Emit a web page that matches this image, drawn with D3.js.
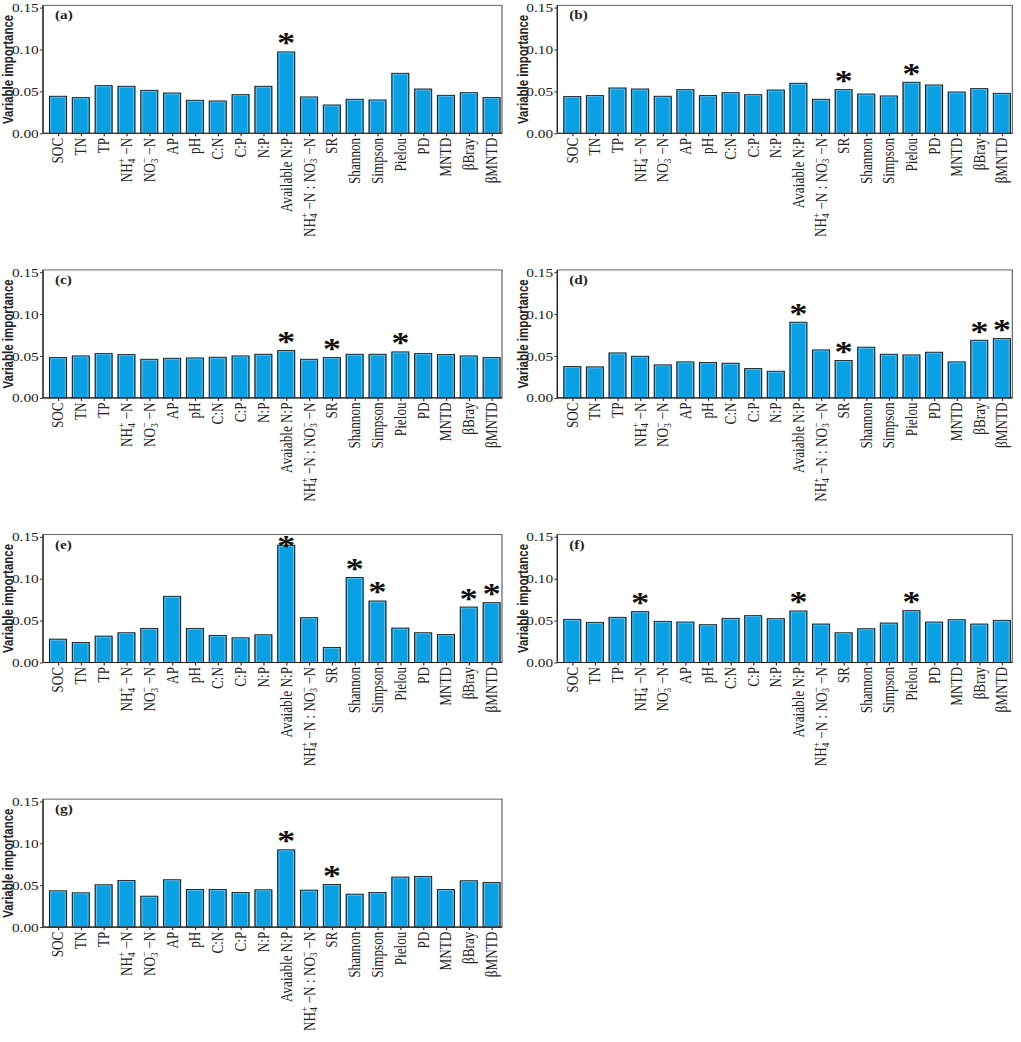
<!DOCTYPE html>
<html>
<head>
<meta charset="utf-8">
<script src="https://cdn.jsdelivr.net/npm/d3@7"></script>
<style>
html,body{margin:0;padding:0;background:#fff;}
svg{display:block;}
</style>
</head>
<body>
<script>
// ---------------- data ----------------
const categories = ["SOC","TN","TP","NH4+-N","NO3--N","AP","pH","C:N","C:P","N:P","Available N:P","NH4+-N:NO3--N","SR","Shannon","Simpson","Pielou","PD","MNTD","βBray","βMNTD"];
const panelNames = ["(a)","(b)","(c)","(d)","(e)","(f)","(g)"];
const availableLabels = ["Available N:P","Avaiable N:P","Avaiable N:P","Avaiable N:P","Avaiable N:P","Avaiable N:P","Avaiable N:P"];

const valuesA = [0.0442,0.0426,0.0569,0.0561,0.0513,0.0481,0.0394,0.0386,0.0461,0.0561,0.0971,0.0434,0.0338,0.0406,0.0398,0.0716,0.0529,0.0453,0.0485,0.0426];
const valuesB = [0.0438,0.0450,0.0541,0.0529,0.0442,0.0521,0.0450,0.0485,0.0461,0.0517,0.0597,0.0406,0.0521,0.0469,0.0446,0.0609,0.0577,0.0493,0.0533,0.0477];
const valuesC = [0.0481,0.0501,0.0529,0.0517,0.0461,0.0473,0.0477,0.0485,0.0501,0.0521,0.0565,0.0461,0.0481,0.0521,0.0521,0.0549,0.0529,0.0517,0.0501,0.0481];
const valuesD = [0.0374,0.0370,0.0537,0.0497,0.0394,0.0430,0.0422,0.0414,0.0350,0.0318,0.0903,0.0573,0.0446,0.0605,0.0521,0.0513,0.0545,0.0430,0.0688,0.0708];
const valuesE = [0.0279,0.0239,0.0315,0.0355,0.0407,0.0790,0.0407,0.0323,0.0295,0.0331,0.1400,0.0535,0.0180,0.1014,0.0734,0.0411,0.0355,0.0335,0.0662,0.0714];
const valuesF = [0.0515,0.0479,0.0539,0.0607,0.0491,0.0483,0.0451,0.0527,0.0559,0.0523,0.0615,0.0459,0.0355,0.0403,0.0471,0.0619,0.0483,0.0511,0.0459,0.0503];
const valuesG = [0.0433,0.0409,0.0505,0.0557,0.0369,0.0565,0.0449,0.0449,0.0413,0.0445,0.0922,0.0441,0.0509,0.0393,0.0413,0.0597,0.0605,0.0449,0.0553,0.0533];

const starsA = ["Available N:P"];
const starsB = ["SR","Pielou"];
const starsC = ["Available N:P","SR","Pielou"];
const starsD = ["Available N:P","SR","βBray","βMNTD"];
const starsE = ["Available N:P","Shannon","Simpson","βBray","βMNTD"];
const starsF = ["NH4+-N","Available N:P","Pielou"];
const starsG = ["Available N:P","SR"];

const yTicks = [0, 0.05, 0.10, 0.15];
const yTickLabels = ["0.00","0.05","0.10","0.15"];
const yTitle = "Variable importance";
const yMax = 0.1527;

const panelValues = [valuesA,valuesB,valuesC,valuesD,valuesE,valuesF,valuesG];
const panelStars = [starsA,starsB,starsC,starsD,starsE,starsF,starsG];

// ---------------- layout ----------------
const SX = 1.22;               // horizontal stretch of the original figure
const W = 1021 / SX;
const colL = [43, 557.3];
const colR = [502, 1012.3];
const rowZero = [133.3, 397.9, 662.5, 927.1];
const h015 = 125.7;
const serif = "'Liberation Serif','Times New Roman',serif";
const sans = "'Liberation Sans',Arial,sans-serif";
const barFill = "#0aa0e4";
const ink = "#222";

const svg = d3.select("body").append("svg")
  .attr("width", 1021).attr("height", 1042)
  .attr("viewBox", `0 0 ${W} 1042`)
  .attr("preserveAspectRatio", "none");
svg.append("rect").attr("width", W).attr("height", 1042).attr("fill", "#fff");

function writeLabel(text, cat, pi) {
  const sfs = 9.2;
  const ion = (sel, base, sub, sup) => {
    sel.append("tspan").text(base);
    sel.append("tspan").attr("font-size", sfs).attr("dy", 3.2).text(sub);
    sel.append("tspan").attr("font-size", sfs).attr("dx", -sfs * 0.5).attr("dy", -7.6).text(sup);
    sel.append("tspan").attr("dy", 4.4).text(" \u2212N");
  };
  if (cat === "NH4+-N") ion(text, "NH", "4", "+");
  else if (cat === "NO3--N") ion(text, "NO", "3", "\u2212");
  else if (cat === "NH4+-N:NO3--N") {
    ion(text, "NH", "4", "+");
    text.append("tspan").text(" : ");
    ion(text, "NO", "3", "\u2212");
  } else if (cat === "Available N:P") text.text(availableLabels[pi]);
  else text.text(cat);
}

panelValues.forEach((vals, pi) => {
  const col = pi % 2, row = Math.floor(pi / 2);
  const L = colL[col] / SX, R = colR[col] / SX;
  const zero = rowZero[row];
  const y = d3.scaleLinear().domain([0, yMax]).range([zero, zero - h015 / 0.15 * yMax]);
  const x = d3.scalePoint().domain(categories).range([L + 15 / SX, R - 10.4 / SX]);
  const bw = 17 / SX;
  const yTop = y(yMax);
  const g = svg.append("g");

  // bars
  const data = categories.map((c, i) => ({c, v: vals[i]}));
  g.selectAll("rect.bar").data(data).join("rect").attr("class", "bar")
    .attr("x", d => x(d.c) - bw / 2).attr("y", d => y(d.v))
    .attr("width", bw).attr("height", d => zero - y(d.v))
    .attr("fill", barFill).attr("stroke", "#1e1e1e").attr("stroke-width", 0.9);
  g.selectAll("rect.hl").data(data).join("rect").attr("class", "hl")
    .attr("x", d => x(d.c) - bw / 2 + 1.1).attr("y", d => y(d.v) + 1.1)
    .attr("width", bw - 2.2).attr("height", d => Math.max(0, zero - y(d.v) - 1.6))
    .attr("fill", "none").attr("stroke", "#8ed2f4").attr("stroke-width", 0.5);

  // frame
  g.append("rect").attr("x", L).attr("y", yTop).attr("width", R - L).attr("height", zero - yTop)
    .attr("fill", "none").attr("stroke", "#555").attr("stroke-width", 0.9);
  g.append("line").attr("x1", L).attr("x2", L).attr("y1", yTop).attr("y2", zero)
    .attr("stroke", "#222").attr("stroke-width", 1);
  g.append("line").attr("x1", L).attr("x2", R).attr("y1", zero).attr("y2", zero)
    .attr("stroke", "#222").attr("stroke-width", 1.1);

  // y axis
  const yAxis = d3.axisLeft(y).tickValues(yTicks).tickSize(3 / SX).tickPadding(1.2 / SX)
    .tickFormat((d, i) => yTickLabels[i]);
  const ya = g.append("g").attr("transform", `translate(${L},0)`).call(yAxis);
  ya.select(".domain").remove();
  ya.selectAll(".tick line").attr("stroke", "#333");
  ya.selectAll(".tick text").attr("font-family", serif).attr("font-size", 12.6).attr("fill", ink);

  // x axis ticks
  const xAxis = d3.axisBottom(x).tickSize(3).tickFormat("");
  const xa = g.append("g").attr("transform", `translate(0,${zero})`).call(xAxis);
  xa.select(".domain").remove();
  xa.selectAll(".tick line").attr("stroke", "#333");

  // x labels
  categories.forEach(c => {
    const t = g.append("text")
      .attr("transform", `translate(${x(c)},${zero + 4.5}) rotate(-90)`)
      .attr("text-anchor", "end").attr("dominant-baseline", "central")
      .attr("font-family", serif).attr("font-size", 13.2).attr("fill", ink);
    writeLabel(t, c, pi);
  });

  // y title
  g.append("text")
    .attr("transform", `translate(${(colL[col] - 34.5) / SX},${(yTop + zero) / 2}) rotate(-90)`)
    .attr("text-anchor", "middle").attr("dominant-baseline", "central")
    .attr("font-family", sans).attr("font-weight", "bold").attr("font-size", 11.5)
    .attr("fill", ink).text(yTitle);

  // panel label
  g.append("text").attr("x", L + 12 / SX).attr("y", yTop + 14)
    .attr("font-family", serif).attr("font-weight", "bold").attr("font-size", 12.5)
    .attr("fill", ink).text(panelNames[pi]);

  // asterisks
  panelStars[pi].forEach(c => {
    const v = vals[categories.indexOf(c)];
    g.append("text").attr("x", x(c))
      .attr("y", Math.max(y(v) + 0.5, yTop + 20))
      .attr("text-anchor", "middle")
      .attr("font-family", serif).attr("font-weight", "bold").attr("font-size", 30)
      .attr("fill", "#111").text("*");
  });
});
</script>
</body>
</html>
